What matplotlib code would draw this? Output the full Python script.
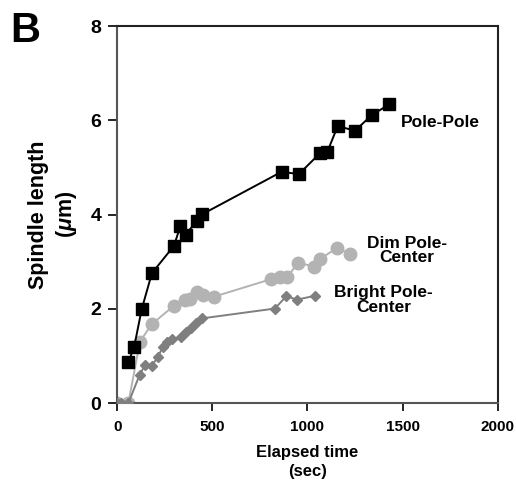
import matplotlib.pyplot as plt

# datos (sec, um)
pole_t = [58, 89, 128, 182, 298, 331, 359, 417, 447, 864, 955, 1067, 1104, 1159, 1250, 1337, 1430]
pole_len = [0.87, 1.20, 1.99, 2.76, 3.34, 3.75, 3.57, 3.87, 4.01, 4.91, 4.86, 5.31, 5.33, 5.88, 5.78, 6.11, 6.34]

dim_t = [0, 58, 119, 182, 298, 356, 380, 417, 452, 508, 806, 855, 891, 952, 1036, 1066, 1157, 1223]
dim_len = [0.0, 0.0, 1.31, 1.68, 2.07, 2.19, 2.22, 2.35, 2.30, 2.26, 2.63, 2.67, 2.67, 2.98, 2.90, 3.06, 3.30, 3.16]

bright_t = [0, 18, 58, 117, 147, 181, 216, 238, 264, 290, 334, 360, 386, 412, 444, 829, 888, 946, 1039]
bright_len = [0.0, 0.0, 0.0, 0.60, 0.82, 0.80, 0.99, 1.20, 1.29, 1.36, 1.41, 1.51, 1.59, 1.70, 1.80, 2.01, 2.27, 2.20, 2.28]

plt.rcParams['font.family'] = ['Liberation Sans', 'DejaVu Sans']
plt.rcParams['font.weight'] = 'bold'
plt.rcParams['mathtext.fontset'] = 'custom'
plt.rcParams['mathtext.it'] = 'Liberation Sans:italic:bold'
plt.rcParams['mathtext.rm'] = 'Liberation Sans:bold'

fig = plt.figure(figsize=(5.16, 4.83), dpi=100)
ax = fig.add_axes([0.2273, 0.165, 0.7372, 0.781])

ax.plot(dim_t, dim_len, '-o', color='#b3b3b3', lw=1.4, ms=9, mec='#b3b3b3', zorder=2)
ax.plot(bright_t, bright_len, '-D', color='#7f7f7f', lw=1.4, ms=5.5, mec='#7f7f7f', zorder=3)
ax.plot(pole_t, pole_len, '-s', color='black', lw=1.4, ms=9, zorder=4)

ax.set_xlim(0, 2000)
ax.set_ylim(0, 8)
ax.set_xticks([0, 500, 1000, 1500, 2000])
ax.set_yticks([0, 2, 4, 6, 8])
ax.tick_params(axis='x', direction='out', length=6, width=1.2, labelsize=11, pad=6)
ax.tick_params(axis='y', direction='out', length=6.5, width=1.2, labelsize=14, pad=5)
for s in ax.spines.values():
    s.set_linewidth(1.5)
    s.set_color('#222222')
ax.spines['left'].set_color('#555555')
ax.spines['bottom'].set_color('#555555')

ax.set_xlabel("Elapsed time\n(sec)", fontsize=12, fontweight='bold', labelpad=8, linespacing=1.35)
ax.set_ylabel("Spindle length\n($\\mu$m)", fontsize=15.5, fontweight='bold', labelpad=8, linespacing=1.3)

ax.text(1697, 5.95, "Pole-Pole", fontsize=12.5, fontweight='bold', ha='center', va='center')
ax.text(1521, 3.24, "Dim Pole-\nCenter", fontsize=12.5, fontweight='bold', ha='center', va='center',
        linespacing=0.95)
ax.text(1399, 2.19, "Bright Pole-\nCenter", fontsize=12.5, fontweight='bold', ha='center', va='center',
        linespacing=0.95)

fig.text(10 / 516, 1 - 42 / 483, "B", fontsize=30, fontweight='bold', ha='left', va='baseline')

fig.savefig("out.png", dpi=100)
